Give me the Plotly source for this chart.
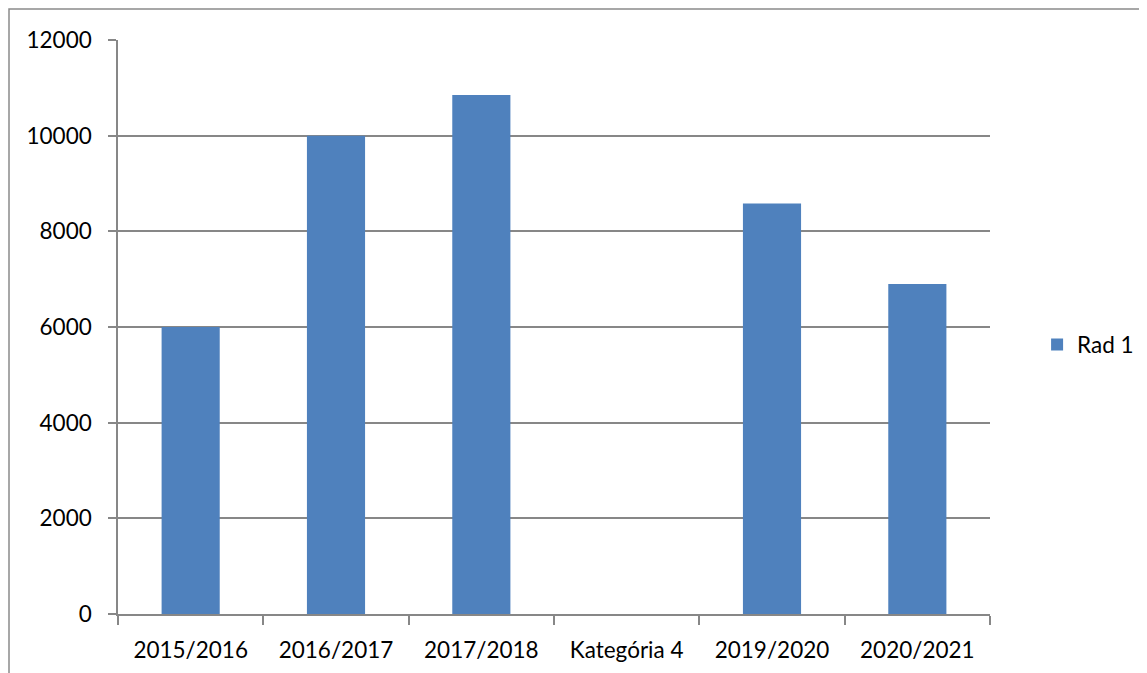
import plotly.graph_objects as go

categories = ["2015/2016", "2016/2017", "2017/2018", "Kategória 4", "2019/2020", "2020/2021"]
values = [6000, 10000, 10850, None, 8580, 6900]
series_name = "Rad 1"
y_ticks = [0, 2000, 4000, 6000, 8000, 10000, 12000]
y_tick_text = ["0", "2000", "4000", "6000", "8000", "10000", "12000"]

FONT = "Lato, Open Sans, sans-serif"
FS = 22.5
GRID = "#878787"

# page body has an 8px default margin, compensate so the plot area lands at
# screen x 118..990, y 40..614
fig = go.Figure()
fig.add_trace(go.Bar(x=categories, y=values, name=series_name,
                     marker=dict(color="#4F81BD", line=dict(width=0))))

fig.update_layout(
    width=1147, height=673,
    margin=dict(l=110, r=165, t=32, b=67, autoexpand=False),
    paper_bgcolor="white", plot_bgcolor="white",
    bargap=0.6,
    showlegend=True,
    legend=dict(x=1.054, y=0.469, xanchor="left", yanchor="middle",
                font=dict(family=FONT, size=FS, color="black"),
                itemwidth=30, itemsizing="constant"),
    font=dict(family=FONT, size=FS, color="black"),
    xaxis=dict(showline=True, linecolor=GRID, linewidth=1.5, automargin=False,
               ticks="outside", tickson="boundaries", ticklen=9, tickcolor=GRID,
               tickwidth=1.5, showgrid=False, ticklabelstandoff=15,
               tickfont=dict(family=FONT, size=FS, color="black")),
    yaxis=dict(range=[0, 12000], tickvals=y_ticks, ticktext=y_tick_text,
               showline=True, linecolor=GRID, automargin=False,
               linewidth=1.5, ticks="outside", ticklen=8, tickcolor=GRID, tickwidth=1.5,
               showgrid=True, gridcolor=GRID, gridwidth=1.5, zeroline=False,
               ticklabelstandoff=12,
               tickfont=dict(family=FONT, size=FS, color="black")),
    shapes=[dict(type="rect", xref="paper", yref="paper",
                 x0=(1 - 110) / 872, x1=1.3, y0=-0.3, y1=(614 - 9) / 574,
                 line=dict(color="#8a8a8a", width=1.5), fillcolor="rgba(0,0,0,0)",
                 layer="below")],
)

fig.write_html("out.html")
